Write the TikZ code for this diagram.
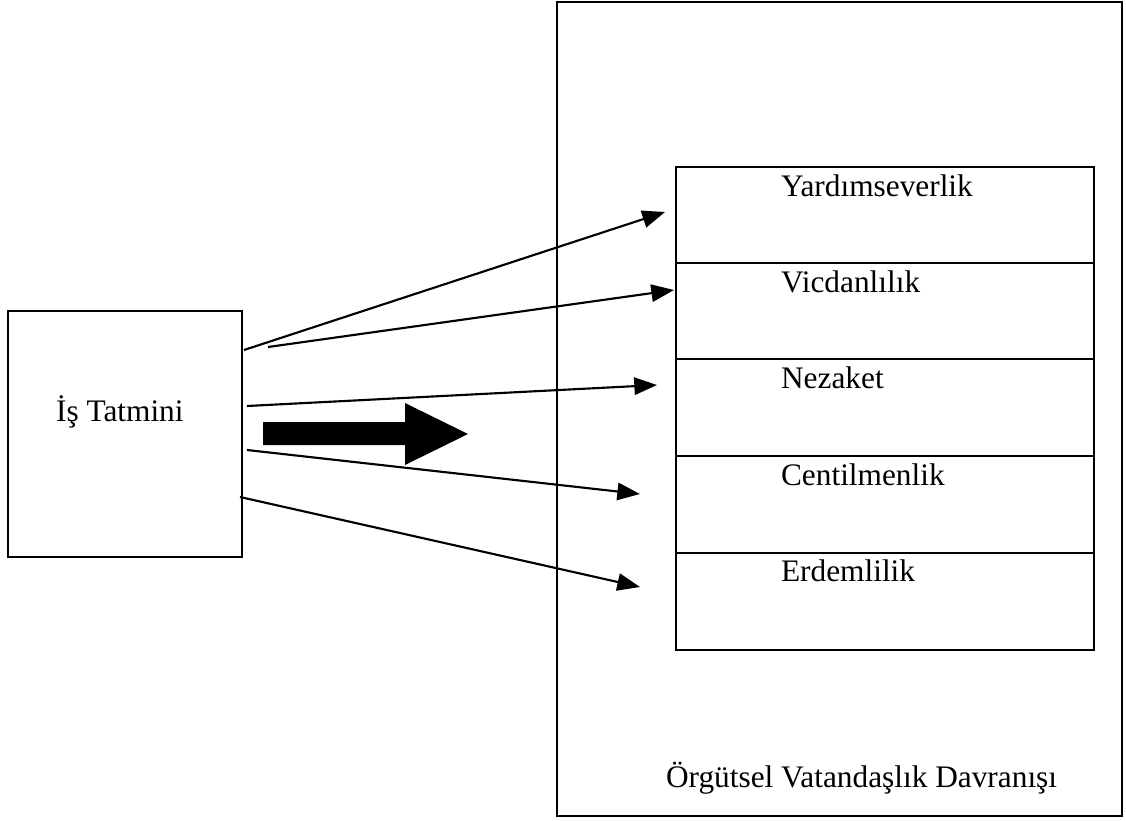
\documentclass[tikz,border=0pt]{standalone}
\usepackage{fontspec}
\setmainfont{Liberation Serif}
\usetikzlibrary{arrows.meta}

\tikzset{every picture/.style={line width=1.6pt}}
\tikzset{
  lbl/.style={anchor=base west,inner sep=0.75pt,font=\fontsize{23.5}{28}\selectfont},
  linkarrow/.style={-{Triangle[length=17pt,width=13pt]},line width=1.6pt}
}

\begin{document}
\begin{tikzpicture}[x=0.75pt,y=0.75pt,yscale=-1,xscale=1]
\useasboundingbox (0,0) rectangle (1126,820);

%Rect: left box
\draw (8,311) rectangle (242,557);
%Rect: outer box
\draw (557,2) rectangle (1122,816);
%Rect: inner stack
\draw (676,167) rectangle (1094,650);
%Dividers
\foreach \yy in {263,359,456,553}
  \draw (676,\yy) -- (1094,\yy);

% Text Node
\node (ist) [lbl] at (54,421) {İş Tatmini};
% Text Node
\node (yard) [lbl] at (779,196) {Yardımseverlik};
% Text Node
\node (vicd) [lbl] at (779,292) {Vicdanlılık};
% Text Node
\node (neza) [lbl] at (779,388) {Nezaket};
% Text Node
\node (cent) [lbl] at (779,485) {Centilmenlik};
% Text Node
\node (erde) [lbl] at (779,581) {Erdemlilik};
% Text Node
\node (ovd) [lbl] at (664,787) {Örgütsel Vatandaşlık Davranışı};

%Arrow end points
\coordinate (s1) at (244,350);  \coordinate (e1) at (665,212);
\coordinate (s2) at (268,347);  \coordinate (e2) at (674,290);
\coordinate (s3) at (247,406);  \coordinate (e3) at (657,385);
\coordinate (s4) at (247,450);  \coordinate (e4) at (640,494);
\coordinate (s5) at (240,497);  \coordinate (e5) at (640,587);

%Straight Lines
\draw [linkarrow] (s1) -- (e1);
\draw [linkarrow] (s2) -- (e2);
\draw [linkarrow] (s3) -- (e3);
\draw [linkarrow] (s4) -- (e4);
\draw [linkarrow] (s5) -- (e5);

%Block arrow
\fill (263,422) -- (405,422) -- (405,403) -- (468,434) -- (405,465) -- (405,445) -- (263,445) -- cycle;

\end{tikzpicture}
\end{document}
